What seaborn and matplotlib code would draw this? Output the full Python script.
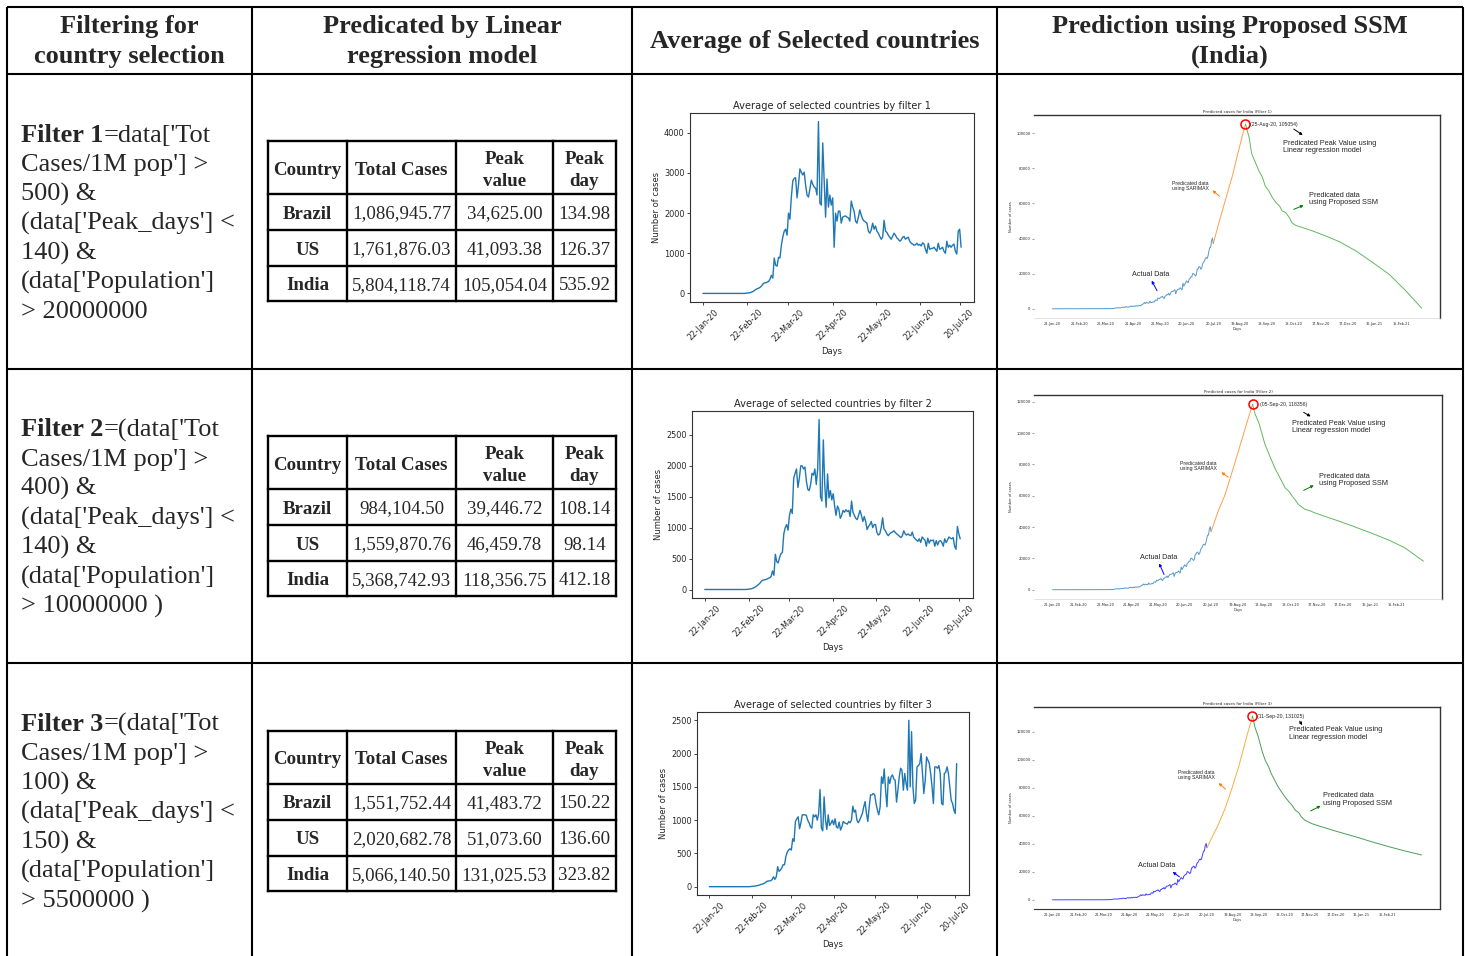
import matplotlib
matplotlib.use("Agg")
import matplotlib.pyplot as plt
import matplotlib.dates as mdates
import numpy as np
import pandas as pd
import seaborn as sns

sns.set_style("ticks")
plt.rcParams["font.family"] = ["DejaVu Sans"]

W, H = 1467, 956
START = pd.Timestamp("2020-01-22")

# ---------------------------------------------------------------- text content
headers = [
    ["Filtering for", "country selection"],
    ["Predicated by Linear", "regression model"],
    ["Average of Selected countries"],
    ["Prediction using Proposed SSM", "(India)"],
]

filter_names = ["Filter 1", "Filter 2", "Filter 3"]
filter_lines = [
    ["=data['Tot", "Cases/1M pop'] >", "500) &", "(data['Peak_days'] <", "140) &",
     "(data['Population']", "> 20000000"],
    ["=(data['Tot", "Cases/1M pop'] >", "400) &", "(data['Peak_days'] <", "140) &",
     "(data['Population']", "> 10000000 )"],
    ["=(data['Tot", "Cases/1M pop'] >", "100) &", "(data['Peak_days'] <", "150) &",
     "(data['Population']", "> 5500000 )"],
]

table_header = [["Country"], ["Total Cases"], ["Peak", "value"], ["Peak", "day"]]
countries = ["Brazil", "US", "India"]
total_cases = [
    [1086945.77, 1761876.03, 5804118.74],
    [984104.50, 1559870.76, 5368742.93],
    [1551752.44, 2020682.78, 5066140.50],
]
peak_value = [
    [34625.00, 41093.38, 105054.04],
    [39446.72, 46459.78, 118356.75],
    [41483.72, 51073.60, 131025.53],
]
peak_day = [
    [134.98, 126.37, 535.92],
    [108.14, 98.14, 412.18],
    [150.22, 136.60, 323.82],
]

# ------------------------------------------- daily average of selected countries
avg_filter1 = [
    0, 0, 0, 0, 0, 0, 0, 0, 0, 0, 0, 0, 0, 0, 0, 0, 0, 0, 0, 0, 0, 0, 0, 0, 0, 0, 0, 0, 0, 0,
    5, 8, 12, 18, 30, 45, 70, 95, 115, 130,
    150, 180, 230, 260, 265, 280, 300, 350, 450, 380,
    880, 700, 680, 900, 880, 1200, 1400, 1550, 1600, 1450,
    2000, 1850, 2400, 2800, 2870, 2880, 2380, 2700, 3100, 3020,
    2950, 3020, 2700, 2450, 2400, 2600, 2820, 2720, 2650, 2620,
    2450, 4280, 2250, 2200, 3750, 2800, 1900, 2850, 2150, 2450,
    2200, 2380, 1150, 2000, 1800, 2050, 2050, 1750, 1900, 1920,
    1930, 1900, 1880, 1800, 2300, 2150, 2050, 1800, 1750, 1900,
    2080, 1950, 1850, 1800, 1780, 1750, 1550, 1500, 1580, 1750,
    1600, 1680, 1550, 1500, 1420, 1350, 1400, 1820, 1550, 1520,
    1450, 1400, 1350, 1420, 1500, 1450, 1380, 1350, 1300, 1330,
    1400, 1420, 1350, 1380, 1400, 1300, 1250, 1230, 1200, 1210,
    1250, 1200, 1220, 1180, 1260, 1230, 1100, 1000, 1250, 1100,
    1120, 1120, 1150, 1100, 1050, 1250, 1100, 1120, 1150, 1050,
    1000, 1300, 1150, 1200, 1150, 1200, 1230, 1050, 980, 1550,
    1600, 1150,
]
avg_filter2 = [
    0, 0, 0, 0, 0, 0, 0, 0, 0, 0, 0, 0, 0, 0, 0, 0, 0, 0, 0, 0, 0, 0, 0, 0, 0, 0, 0, 0, 0, 0,
    2, 5, 8, 12, 20, 30, 45, 60, 80, 100,
    130, 150, 155, 160, 170, 180, 190, 210, 300, 230,
    570, 450, 430, 520, 580, 600, 900, 1000, 1050, 960,
    1200, 1300, 1230, 1800, 1880, 1950, 1650, 1800, 2000, 2000,
    1950, 1980, 1750, 1620, 1600, 1700, 1880, 1850, 1950, 1700,
    1950, 2750, 1500, 1430, 2420, 1700, 1330, 1870, 1480, 1600,
    1450, 1550, 1350, 1200, 1350, 1300, 1150, 1200, 1280, 1250,
    1290, 1260, 1280, 1180, 1430, 1250, 1200, 1150, 1130, 1200,
    1280, 1200, 1100, 1180, 1100, 970, 1020, 1050, 1100, 1000,
    1050, 1050, 920, 880, 900, 1000, 1160, 980, 950, 900,
    870, 900, 920, 930, 950, 920, 900, 880, 860, 840,
    870, 950, 900, 880, 900, 880, 870, 930, 850, 820,
    800, 780, 820, 760, 850, 820, 800, 700, 830, 750,
    800, 790, 800, 700, 790, 720, 780, 790, 760, 700,
    820, 760, 800, 850, 830, 820, 840, 700, 650, 1020,
    900, 820,
]
avg_filter3 = [
    0, 0, 0, 0, 0, 0, 0, 0, 0, 0, 0, 0, 0, 0, 0, 0, 0, 0, 0, 0, 0, 0, 0, 0, 0, 0, 0, 0, 0, 0,
    2, 4, 6, 8, 12, 15, 20, 28, 35, 40,
    50, 60, 80, 85, 88, 90, 110, 150, 110, 150,
    300, 230, 250, 280, 330, 330, 450, 520, 550, 570,
    550, 720, 680, 980, 1020, 1050, 870, 960, 1080, 1080,
    1080, 1070, 1000, 960, 900, 880, 1080, 1050, 1080, 1000,
    1100, 1460, 880, 840, 1350, 1000, 860, 1080, 920, 950,
    1000, 930, 1020, 900, 880, 970, 850, 900, 980, 960,
    950, 940, 980, 960, 1000, 1210, 1120, 1150, 1000, 960,
    1000, 1050, 1100, 1200, 1280, 1100, 980, 1200, 1380, 1380,
    1400, 1380, 1250, 1150, 1080, 1200, 1650, 1550, 1770, 1450,
    1200, 1650, 1550, 1650, 1680, 1620, 1600, 1270, 1450, 1650,
    1780, 1750, 1450, 1700, 1550, 1450, 2500, 1500, 2330, 1500,
    1250, 1300, 1800, 1820, 1850, 2000, 1700, 1400, 1600, 1950,
    1900, 1850, 1700, 1500, 1250, 1800, 1800, 1780, 1820, 1700,
    1250, 1230, 1700, 1720, 1800, 1700, 1500, 1300, 1250, 1150,
    1100, 1850,
]
avg_series = [avg_filter1, avg_filter2, avg_filter3]
avg_ticks = ["2020-01-22", "2020-02-22", "2020-03-22", "2020-04-22",
             "2020-05-22", "2020-06-22", "2020-07-20"]
avg_yticks = [[0, 1000, 2000, 3000, 4000],
              [0, 500, 1000, 1500, 2000, 2500],
              [0, 500, 1000, 1500, 2000, 2500]]

# ------------------------------------------------ India: actual daily new cases
india_actual = [
    0, 0, 0, 0, 0, 0, 0, 0, 1, 0,
    0, 1, 1, 0, 0, 0, 0, 0, 0, 0,
    0, 0, 0, 0, 0, 0, 0, 0, 0, 0,
    0, 0, 0, 0, 0, 0, 0, 0, 0, 0,
    2, 1, 22, 2, 1, 3, 5, 4, 13, 6,
    11, 9, 20, 11, 6, 23, 14, 38, 50, 86,
    66, 103, 37, 121, 70, 160, 100, 112, 227, 146,
    424, 486, 560, 579, 609, 484, 573, 565, 813, 871,
    854, 758, 1243, 1031, 886, 1061, 922, 1371, 1580, 1239,
    1537, 1292, 1667, 1408, 1835, 1607, 1568, 1902, 1705, 1801,
    2396, 2564, 2952, 3656, 2971, 3602, 3344, 3339, 3175, 4311,
    3592, 3562, 3726, 3991, 3808, 4794, 5050, 4628, 6154, 5720,
    6023, 6536, 6667, 7111, 6414, 5843, 7293, 7300, 8105, 7964,
    8789, 7723, 8812, 9689, 9838, 9887, 10438, 10864, 8442, 10218,
    10974, 11128, 11157, 12023, 11231, 10667, 14516, 12847, 13828, 14740,
    15915, 15183, 14831, 16922, 17296, 18205, 18255, 20142, 19906, 19459,
    18653, 19429, 22721, 22771, 24015, 23932, 22510, 23135, 25571, 26506,
    27114, 28637, 29108, 28498, 29917, 32607, 34820, 34884, 38697, 40243,
    37148,
]

# SARIMAX forecast (day offset from 22-Jan-20, cases) up to the predicted peak
sarimax_days = [
    [180, 186, 193, 201, 208, 212, 216],
    [180, 188, 196, 203, 211, 219, 227],
    [180, 185, 193, 201, 209, 217, 225, 233],
]
sarimax_vals = [
    [37148, 48500, 61000, 75000, 89500, 97500, 105054],
    [37148, 50200, 60900, 73700, 88600, 103600, 118356],
    [37148, 43500, 53300, 65000, 79300, 95000, 113500, 131025],
]
# Proposed SSM from the peak onwards
ssm_days = [
    [216, 220, 223, 227, 231, 235, 238, 242, 246, 250, 254, 257, 261, 265, 268,
     272, 280, 291, 306, 321, 340, 359, 377, 396, 413],
    [227, 230, 234, 238, 241, 245, 249, 253, 256, 260, 264, 268, 272, 275, 279,
     283, 287, 291, 298, 306, 325, 344, 363, 382, 400, 421],
    [233, 236, 240, 244, 248, 252, 255, 259, 263, 267, 271, 275, 279, 283, 287,
     290, 294, 302, 314, 333, 353, 372, 392, 411, 430],
]
ssm_vals = [
    [105054, 97700, 88200, 83400, 78600, 74800, 70000, 67200, 63400, 60500, 58600,
     55700, 54800, 51900, 49000, 47500, 46200, 44300, 41400, 38200, 32800, 26100,
     19500, 9900, 400],
    [118356, 112000, 106800, 99000, 93000, 87500, 82000, 76900, 73700, 69400, 65000,
     63000, 59800, 57700, 54500, 52700, 51200, 50600, 49000, 47400, 43800, 39900,
     35900, 31600, 26700, 18200],
    [131025, 123000, 116000, 106500, 99400, 94700, 89900, 85200, 80500, 76900, 73400,
     70300, 67500, 63900, 62200, 59200, 56800, 54400, 52000, 48500, 45000, 41400,
     37900, 34800, 32000],
]
peak_dates = ["25-Aug-20", "05-Sep-20", "11-Sep-20"]
peak_cases = [105054, 118356, 131025]
ssm_ticks = ["2020-01-22", "2020-02-21", "2020-03-22", "2020-04-21", "2020-05-21",
             "2020-06-20", "2020-07-20", "2020-08-19", "2020-09-18", "2020-10-18",
             "2020-11-17", "2020-12-17", "2021-01-16", "2021-02-15"]
ssm_yticks = [[0, 20000, 40000, 60000, 80000, 100000],
              [0, 20000, 40000, 60000, 80000, 100000, 120000],
              [0, 20000, 40000, 60000, 80000, 100000, 120000]]

# ------------------------------------------------------------------ figure
fig = plt.figure(figsize=(W / 100, H / 100), dpi=100)
fig.patch.set_facecolor("white")
bg = fig.add_axes([0, 0, 1, 1], zorder=0)
bg.set_xlim(0, W)
bg.set_ylim(H, 0)
bg.axis("off")

SERIF = "Liberation Serif"
SANS = "Liberation Sans"
BIG = 19
SMALL = 13.6


def px_axes(x0, y0, x1, y1):
    return fig.add_axes([x0 / W, 1 - y1 / H, (x1 - x0) / W, (y1 - y0) / H], zorder=2)


def day_num(d):
    return mdates.date2num(START + pd.Timedelta(days=float(d)))


# outer grid
col_x = [7, 252, 632, 997, 1463]
row_y = [7, 74, 369, 663]
for x in col_x:
    bg.plot([x, x], [row_y[0], H], color="black", lw=1.5, solid_capstyle="butt")
for y in row_y:
    bg.plot([col_x[0], col_x[-1]], [y, y], color="black", lw=1.5, solid_capstyle="butt")

# header row
head_cx = [129.5, 442, 814.5, 1230]
for cx, lines in zip(head_cx, headers):
    base = [48] if len(lines) == 1 else [33, 63]
    for ln, yb in zip(lines, base):
        bg.text(cx, yb, ln, family=SERIF, fontsize=BIG, fontweight="bold",
                ha="center", va="baseline")

# filter descriptions
renderer = fig.canvas.get_renderer()
for r, (name, lines) in enumerate(zip(filter_names, filter_lines)):
    for k, ln in enumerate(lines):
        yb = 141.7 + 294.5 * r + 29.4 * k
        x0 = 21
        if k == 0:
            t = bg.text(x0, yb, name, family=SERIF, fontsize=BIG, fontweight="bold",
                        ha="left", va="baseline")
            bb = t.get_window_extent(renderer)
            x0 = bb.x1
        bg.text(x0, yb, ln, family=SERIF, fontsize=BIG, ha="left", va="baseline")

# inner tables
tcol_x = [268, 347, 456, 553, 616]
trow_y = [0, 53, 89, 125, 160]
for r in range(3):
    top = 141 + 295 * r
    for x in tcol_x:
        bg.plot([x, x], [top, top + trow_y[-1]], color="black", lw=1.7, solid_capstyle="projecting")
    for y in trow_y:
        bg.plot([tcol_x[0], tcol_x[-1]], [top + y, top + y], color="black", lw=1.7,
                solid_capstyle="projecting")
    # header cells
    for c, lines in enumerate(table_header):
        cx = (tcol_x[c] + tcol_x[c + 1]) / 2
        ys = [top + 27] if len(lines) == 1 else [top + 16, top + 38]
        for ln, yy in zip(lines, ys):
            bg.text(cx, yy, ln, family=SERIF, fontsize=SMALL, fontweight="bold",
                    ha="center", va="center_baseline")
    # body cells
    for i, name in enumerate(countries):
        yy = top + (trow_y[i + 1] + trow_y[i + 2]) / 2
        cells = [name, f"{total_cases[r][i]:,.2f}", f"{peak_value[r][i]:,.2f}",
                 f"{peak_day[r][i]:.2f}"]
        for c, txt in enumerate(cells):
            cx = (tcol_x[c] + tcol_x[c + 1]) / 2
            bg.text(cx, yy, txt, family=SERIF, fontsize=SMALL,
                    fontweight="bold" if c == 0 else "normal",
                    ha="center", va="center_baseline")

# ---------------------------------------------- average of selected countries
avg_boxes = [(690, 113, 974, 302), (692, 411, 973, 598), (697, 712, 969, 895)]
for f, (vals, box) in enumerate(zip(avg_series, avg_boxes)):
    ax = px_axes(*box)
    df = pd.DataFrame({"Days": pd.date_range(START, periods=len(vals), freq="D"),
                       "cases": vals})
    sns.lineplot(data=df, x="Days", y="cases", ax=ax, color="#1f77b4", lw=1.0)
    ax.set_xticks(pd.to_datetime(avg_ticks))
    ax.xaxis.set_major_formatter(mdates.DateFormatter("%d-%b-%y"))
    ax.set_yticks(avg_yticks[f])
    ax.tick_params(axis="x", labelrotation=45, labelsize=5.9, length=2.5, width=0.6, pad=1.5)
    ax.tick_params(axis="y", labelsize=5.9, length=2.5, width=0.6, pad=1.5)
    for sp in ax.spines.values():
        sp.set_linewidth(0.8)
        sp.set_color("#333333")
    ax.set_title(f"Average of selected countries by filter {f + 1}", fontsize=7.1, pad=3)
    ax.set_xlabel("Days", fontsize=6, labelpad=2)
    ax.set_ylabel("Number of cases", fontsize=6, labelpad=2)

# -------------------------------------------------- India SSM prediction charts
ssm_boxes = [(1034, 115, 1440, 318), (1034, 395, 1442, 599), (1034, 707, 1440, 909)]
palettes = [("#1f77b4", "#ff7f0e", "#2ca02c", 0.75),
            ("#1f77b4", "#ff7f0e", "#2ca02c", 0.75),
            ("#2020ff", "#f0a020", "#2e8b3e", 0.85)]
# text / arrow placement in (day offset, cases)
notes = [
    dict(actual=(110, 19400), a_arrow=((117, 10300), (111, 16000)),
         sar=(134, 70000), s_arrow=((187, 64000), (179, 67400)),
         peak_txt=221.6, p_arrow=((270, 102300), (280, 98900)),
         lin=(257.6, 92000), ssm=(287, 62300), g_arrow=((270, 56600), (281, 58900))),
    dict(actual=(121, 20700), a_arrow=((126.6, 9700), (121, 16800)),
         sar=(145, 79200), s_arrow=((199.5, 71800), (191.6, 75000)),
         peak_txt=235, p_arrow=((285, 113200), (293, 110600)),
         lin=(271.4, 103800), ssm=(303, 70200), g_arrow=((285, 63400), (296.5, 66600))),
    dict(actual=(122, 24200), a_arrow=((148, 16400), (140, 19900)),
         sar=(145.7, 89000), s_arrow=((201.6, 79000), (193.5, 83300)),
         peak_txt=237.8, p_arrow=((288, 127500), (291, 124600)),
         lin=(275, 118600), ssm=(314.7, 71600), g_arrow=((300.7, 63400), (312.4, 67000))),
]

act_dates = pd.date_range(START, periods=len(india_actual), freq="D")
for f, box in enumerate(ssm_boxes):
    ax = px_axes(*box)
    c_act, c_sar, c_ssm, alpha = palettes[f]
    sns.lineplot(x=act_dates, y=india_actual, ax=ax, color=c_act, lw=0.7, alpha=alpha)
    sns.lineplot(x=[START + pd.Timedelta(days=d) for d in sarimax_days[f]],
                 y=sarimax_vals[f], ax=ax, color=c_sar, lw=0.7, alpha=alpha)
    sns.lineplot(x=[START + pd.Timedelta(days=d) for d in ssm_days[f]],
                 y=ssm_vals[f], ax=ax, color=c_ssm, lw=0.7, alpha=alpha)
    pk_day = ssm_days[f][0]
    ax.plot([day_num(pk_day)], [peak_cases[f]], "o", mfc="none", mec="red", ms=6.5, mew=1.1)

    ax.set_xticks(pd.to_datetime(ssm_ticks))
    ax.xaxis.set_major_formatter(mdates.DateFormatter("%d-%b-%y"))
    ax.set_yticks(ssm_yticks[f])
    ax.tick_params(axis="x", labelsize=2.5, length=0, pad=3)
    ax.tick_params(axis="y", labelsize=2.7, length=1.5, width=0.4, pad=1, color="#555555")
    ax.spines["left"].set_visible(False)
    for side in ("top", "right"):
        ax.spines[side].set_color("#333333")
        ax.spines[side].set_linewidth(1.0)
    ax.spines["bottom"].set_color("#333333" if f == 2 else "#cccccc")
    ax.spines["bottom"].set_linewidth(0.8 if f == 2 else 0.4)
    ax.set_title(f"Predicted cases for India (Filter {f + 1})", fontsize=3, pad=1.5)
    ax.set_xlabel("Days", fontsize=2.6, labelpad=0.5)
    ax.set_ylabel("Number of cases", fontsize=2.6, labelpad=2)

    n = notes[f]
    arrow = dict(arrowstyle="-|>", lw=0.7, mutation_scale=4, shrinkA=0, shrinkB=0)
    ax.text(day_num(n["actual"][0]), n["actual"][1], "Actual Data", family=SANS,
            fontsize=5.2, ha="center", va="center")
    (tx, ty), (hx, hy) = n["a_arrow"]
    ax.annotate("", xy=(day_num(hx), hy), xytext=(day_num(tx), ty),
                arrowprops=dict(arrow, color="blue"))
    ax.text(day_num(n["sar"][0]), n["sar"][1], "Predicated data\nusing SARIMAX", family=SANS,
            fontsize=3.7, ha="left", va="center", linespacing=1.0)
    (tx, ty), (hx, hy) = n["s_arrow"]
    ax.annotate("", xy=(day_num(hx), hy), xytext=(day_num(tx), ty),
                arrowprops=dict(arrow, color="#ff7f0e"))
    ax.text(day_num(n["peak_txt"]), peak_cases[f], f"({peak_dates[f]}, {peak_cases[f]})",
            family=SANS, fontsize=3.7, ha="left", va="center")
    (tx, ty), (hx, hy) = n["p_arrow"]
    ax.annotate("", xy=(day_num(hx), hy), xytext=(day_num(tx), ty),
                arrowprops=dict(arrow, color="black"))
    ax.text(day_num(n["lin"][0]), n["lin"][1],
            "Predicated Peak Value using\nLinear regression model", family=SANS,
            fontsize=5.3, ha="left", va="center", linespacing=1.05)
    ax.text(day_num(n["ssm"][0]), n["ssm"][1], "Predicated data\nusing Proposed SSM",
            family=SANS, fontsize=5.3, ha="left", va="center", linespacing=1.05)
    (tx, ty), (hx, hy) = n["g_arrow"]
    ax.annotate("", xy=(day_num(hx), hy), xytext=(day_num(tx), ty),
                arrowprops=dict(arrow, color="green"))

fig.savefig("out.png", dpi=100, facecolor="white")
